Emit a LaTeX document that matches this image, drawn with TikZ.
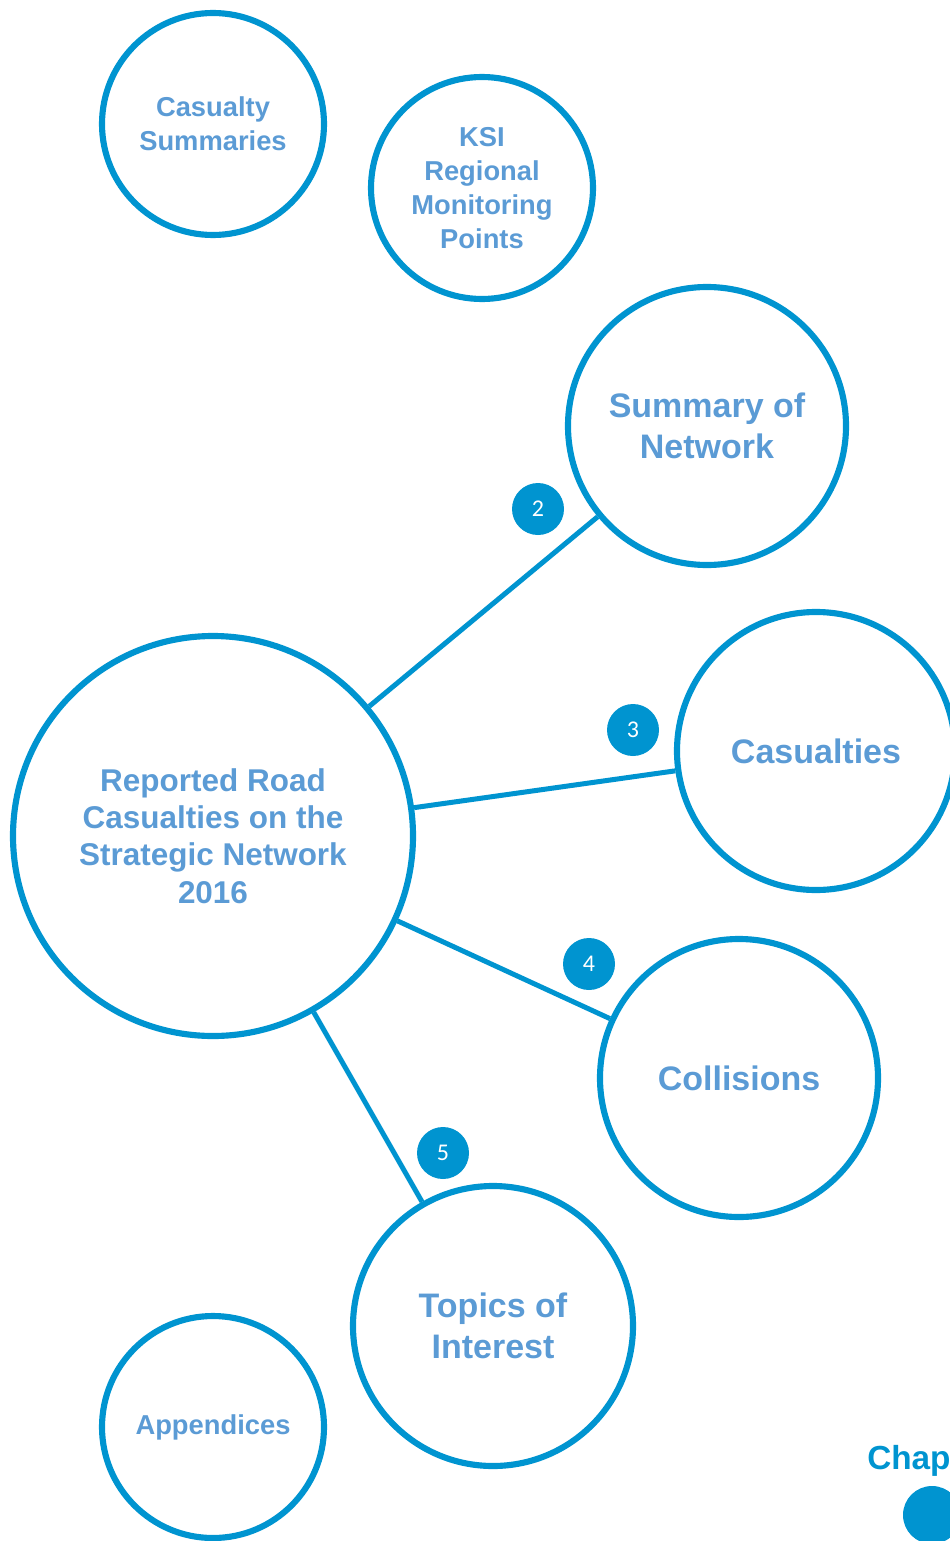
\documentclass[tikz,border=0pt]{standalone}
\usepackage{fontspec}
\setmainfont{Liberation Sans}
\newfontfamily\badgefont{Carlito}
\definecolor{ringblue}{RGB}{0,148,208}
\definecolor{txtblue}{RGB}{91,155,213}
\begin{document}
\begin{tikzpicture}[x=0.75pt,y=-0.75pt,
  ring/.style={circle,draw=ringblue,line width=4.6pt,inner sep=0pt,minimum size=#1*1.5pt,text=txtblue,align=center},
  smalltxt/.style={font=\fontsize{20.5pt}{25.5pt}\selectfont\bfseries},
  midtxt/.style={font=\fontsize{25.5pt}{30.75pt}\selectfont\bfseries},
  maintxt/.style={font=\fontsize{23.6pt}{28pt}\selectfont\bfseries},
  badge/.style={circle,fill=ringblue,inner sep=0pt,minimum size=39pt,text=white,font=\badgefont\fontsize{18pt}{20pt}\selectfont},
  link/.style={draw=ringblue,line width=3.75pt}]
\useasboundingbox (0,0) rectangle (949,1541);
\node[ring=111,smalltxt] (cs) at (213,124) {Casualty\\Summaries};
\node[ring=111,smalltxt] (ksi) at (482,188) {KSI\\Regional\\Monitoring\\Points};
\node[ring=139,midtxt] (sum) at (707,426) {Summary of\\Network};
\node[ring=200,maintxt] (main) at (213,836) {Reported Road\\Casualties on the\\Strategic Network\\2016};
\node[ring=139,midtxt] (cas) at (816,751) {Casualties};
\node[ring=139,midtxt] (col) at (739,1078) {Collisions};
\node[ring=140,midtxt] (top) at (493,1326) {Topics of\\Interest};
\node[ring=111,smalltxt] (app) at (213,1427) {Appendices};
\path[link] (main) -- (sum);
\path[link] (main) -- (cas);
\path[link] (main) -- (col);
\path[link] (main) -- (top);
\node[badge] (b2) at (538,509) {2};
\node[badge] (b3) at (633,730) {3};
\node[badge] (b4) at (589,964) {4};
\node[badge] (b5) at (443,1153) {5};
\node[anchor=west,inner sep=0pt,text=ringblue,font=\fontsize{25pt}{30pt}\selectfont\bfseries] (chap) at (867,1461) {Chap};
\node[circle,fill=ringblue,inner sep=0pt,minimum size=43.5pt] (dot) at (932,1515) {};
\end{tikzpicture}
\end{document}
